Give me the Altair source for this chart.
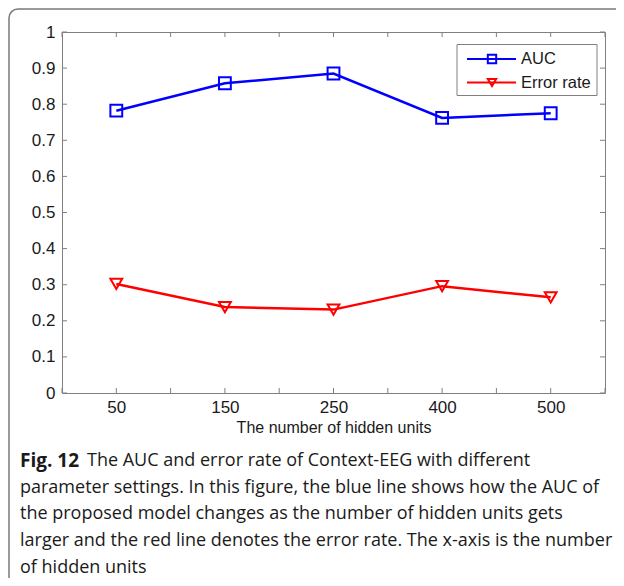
import altair as alt
import pandas as pd

# ---- data ----
hidden_units = ["50", "150", "250", "400", "500"]
auc = [0.782, 0.858, 0.885, 0.762, 0.775]
error_rate = [0.302, 0.238, 0.231, 0.296, 0.265]
series_names = ["AUC", "Error rate"]
series_colors = ["#0000ff", "#ff0000"]
series_shapes = ["square", "triangle-down"]
y_tick_values = [round(i * 0.1, 1) for i in range(11)]
x_tick_values = [0.5 * i for i in range(1, 12)]
x_title = "The number of hidden units"
caption_bold = "Fig. 12"
caption_lines = [
    "The AUC and error rate of Context-EEG with different",
    "parameter settings. In this figure, the blue line shows how the AUC of",
    "the proposed model changes as the number of hidden units gets",
    "larger and the red line denotes the error rate. The x-axis is the number",
    "of hidden units",
]

W, H = 543, 361
AX_FONT = "Liberation Sans"
CAP_FONT = "Open Sans"
GREY = "#808080"

rows = []
for i, u in enumerate(hidden_units):
    rows.append(dict(idx=i + 1, units=u, series="AUC", value=auc[i]))
    rows.append(dict(idx=i + 1, units=u, series="Error rate", value=error_rate[i]))
df = pd.DataFrame(rows)

label_expr = "[" + ",".join(f"'{u}'" for u in hidden_units) + "][datum.value - 1]"

xscale = alt.Scale(domain=[0.5, 5.5], nice=False, zero=False)
yscale = alt.Scale(domain=[0, 1], nice=False, zero=False)
color_scale = alt.Scale(domain=series_names, range=series_colors)
shape_scale = alt.Scale(domain=series_names, range=series_shapes)

x_axis = alt.Axis(values=[1, 2, 3, 4, 5], labelExpr=label_expr, title=x_title,
                  ticks=False, grid=False, domain=False,
                  labelFont=AX_FONT, labelFontSize=17, labelColor="#1a1a1a", labelPadding=6,
                  titleFont=AX_FONT, titleFontSize=16, titleFontWeight="normal",
                  titleColor="#1a1a1a", titlePadding=4)
y_axis = alt.Axis(values=y_tick_values, format="~g", title=None,
                  ticks=False, grid=False, domain=False,
                  labelFont=AX_FONT, labelFontSize=17, labelColor="#1a1a1a", labelPadding=7)

x_enc = alt.X("idx:Q", scale=xscale, axis=x_axis)
y_enc = alt.Y("value:Q", scale=yscale, axis=y_axis)
color_enc = alt.Color("series:N", scale=color_scale, legend=None)
shape_enc = alt.Shape("series:N", scale=shape_scale, legend=None)

one = pd.DataFrame({"a": [0]})

# rounded figure border
border = alt.Chart(one).mark_rect(fill="transparent", stroke="#7a7a7a", strokeWidth=1.5,
                                  cornerRadius=9).encode(
    x=alt.value(-53), x2=alt.value(W + 40), y=alt.value(-23), y2=alt.value(H + 240))

# inward ticks
ydf = pd.DataFrame({"value": y_tick_values})
xdf = pd.DataFrame({"idx": x_tick_values})
yt_left = alt.Chart(ydf).mark_rule(color=GREY, strokeWidth=1).encode(
    y=y_enc, x=alt.value(0), x2=alt.value(5))
yt_right = alt.Chart(ydf).mark_rule(color=GREY, strokeWidth=1).encode(
    y=y_enc, x=alt.value(W - 5), x2=alt.value(W))
xt_bottom = alt.Chart(xdf).mark_rule(color=GREY, strokeWidth=1).encode(
    x=x_enc, y=alt.value(H - 5), y2=alt.value(H))
xt_top = alt.Chart(xdf).mark_rule(color=GREY, strokeWidth=1).encode(
    x=x_enc, y=alt.value(0), y2=alt.value(5))

lines = alt.Chart(df).mark_line(strokeWidth=2.5).encode(
    x=x_enc, y=y_enc, color=color_enc, detail="series:N")
points = alt.Chart(df).mark_point(filled=False, size=140, strokeWidth=2, opacity=1).encode(
    x=x_enc, y=y_enc, color=color_enc, shape=shape_enc)

# legend box
leg_layers = [alt.Chart(one).mark_rect(fill="white", stroke=GREY, strokeWidth=1).encode(
    x=alt.value(395), x2=alt.value(535), y=alt.value(12.5), y2=alt.value(63.5))]
for k, (name, col, shp) in enumerate(zip(series_names, series_colors, series_shapes)):
    ly = 27 + k * 23.5
    leg_layers.append(alt.Chart(one).mark_rule(color=col, strokeWidth=2).encode(
        x=alt.value(405), x2=alt.value(454), y=alt.value(ly)))
    leg_layers.append(alt.Chart(one).mark_point(shape=shp, filled=False, color=col, size=70,
                                                strokeWidth=2, opacity=1).encode(
        x=alt.value(430), y=alt.value(ly)))
    leg_layers.append(alt.Chart(one).mark_text(text=name, font=AX_FONT, fontSize=16.5,
                                               align="left", baseline="middle",
                                               color="#1a1a1a").encode(
        x=alt.value(459), y=alt.value(ly)))

# caption
cap_layers = [alt.Chart(one).mark_text(text=caption_bold, font=CAP_FONT, fontSize=19,
                                       fontWeight="bold", align="left", baseline="middle",
                                       color="#1a1a1a").encode(
    x=alt.value(-42), y=alt.value(429))]
for k, line in enumerate(caption_lines):
    cap_layers.append(alt.Chart(one).mark_text(text=line, font=CAP_FONT, fontSize=18,
                                               align="left", baseline="middle",
                                               color="#1a1a1a").encode(
        x=alt.value(25 if k == 0 else -42), y=alt.value(429 + k * 26.7)))

chart = alt.layer(border, yt_left, yt_right, xt_bottom, xt_top, lines, points,
                  *leg_layers, *cap_layers).properties(
    width=W, height=H,
    padding={"left": 54, "top": 24, "right": 11, "bottom": 185},
    autosize=alt.AutoSizeParams(type="none"),
    background="white",
).configure_view(stroke=GREY, strokeWidth=1)

chart.save("out.html", embed_options={"renderer": "svg", "actions": False})
